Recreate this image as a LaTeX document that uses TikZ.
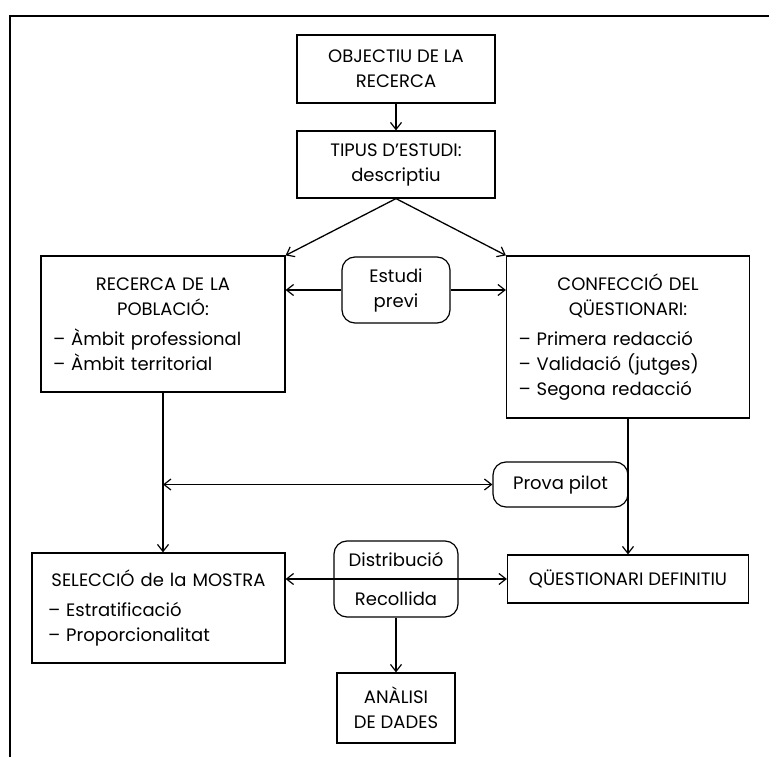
\documentclass[tikz,border=0pt]{standalone}
\usepackage{fontspec}
\setmainfont{Poppins}
\usetikzlibrary{arrows.meta}

\begin{document}
\begin{tikzpicture}[x=1pt,y=-1pt,
    every node/.style={font=\fontsize{18}{25}\selectfont},
    box/.style={draw,line width=1.2pt,inner sep=0pt,align=center},
    roundbox/.style={box,rounded corners=13pt},
    arr/.style={-{Straight Barb[length=7pt,width=11pt,line width=1.2pt]},line width=1.3pt},
    dblarr/.style={{Straight Barb[length=7pt,width=11pt,line width=1.2pt]}-{Straight Barb[length=7pt,width=11pt,line width=1.2pt]},line width=1.3pt}]
    \useasboundingbox (0,0) rectangle (769,757);

    % Frame round the page
    \draw[line width=1.8pt] (10,757) -- (10,16) -- (769,16);

    % Nodes of the upper part
    \node[box,minimum width=198pt,minimum height=68pt] (obj) at (396,69) {OBJECTIU DE LA\\RECERCA};
    \node[box,minimum width=198pt,minimum height=67pt] (tip) at (396,164.5) {TIPUS D'ESTUDI:\\descriptiu};
    \node[box,minimum width=244pt,minimum height=136pt,text width=220pt,align=left] (rec) at (163,324)
        {\centering RECERCA DE LA\\POBLACIÓ:\par\vspace{5pt}\raggedright – Àmbit professional\\– Àmbit territorial\par};
    \node[roundbox,minimum width=108pt,minimum height=66pt] (prev) at (396,290) {Estudi\\previ};
    \node[box,minimum width=243pt,minimum height=162pt,text width=219pt,align=left] (conf) at (628,337)
        {\centering CONFECCIÓ DEL\\QÜESTIONARI:\par\vspace{5pt}\raggedright – Primera redacció\\– Validació (jutges)\\– Segona redacció\par};

    % Nodes of the lower part
    \node[roundbox,minimum width=135pt,minimum height=45pt] (pil) at (560.5,484.5) {Prova pilot};
    \node[box,minimum width=253pt,minimum height=110pt,text width=245pt,align=left] (sel) at (158.5,608)
        {\centering SELECCIÓ de la MOSTRA\par\vspace{5pt}\raggedright\hspace{12pt}– Estratificació\\\hspace{12pt}– Proporcionalitat\par};
    \node[roundbox,minimum width=124pt,minimum height=76pt] (dis) at (396,579) {Distribució\\[14pt]Recollida};
    \node[box,minimum width=241pt,minimum height=48pt] (qdef) at (628,579) {QÜESTIONARI DEFINITIU};
    \node[box,minimum width=118pt,minimum height=70pt] (ana) at (396,708) {ANÀLISI\\DE DADES};

    % Edges of the upper part
    \draw[arr] (obj) -- (tip);
    \draw[arr] (tip.south) -- (rec.north east);
    \draw[arr] (tip.south) -- (conf.north west);
    \draw[arr] (prev.west) -- (prev.west -| rec.east);
    \draw[arr] (prev.east) -- (prev.east -| conf.west);

    % Edges of the lower part
    \draw[arr] (rec.south) -- (rec.south |- sel.north);
    \draw[arr] (conf.south) -- (qdef.north);
    \draw[dblarr] (rec.south |- pil.west) -- (pil.west);
    \draw[dblarr] (sel.east |- qdef.west) -- (qdef.west);
    \draw[arr] (dis.south) -- (ana.north);
\end{tikzpicture}
\end{document}
